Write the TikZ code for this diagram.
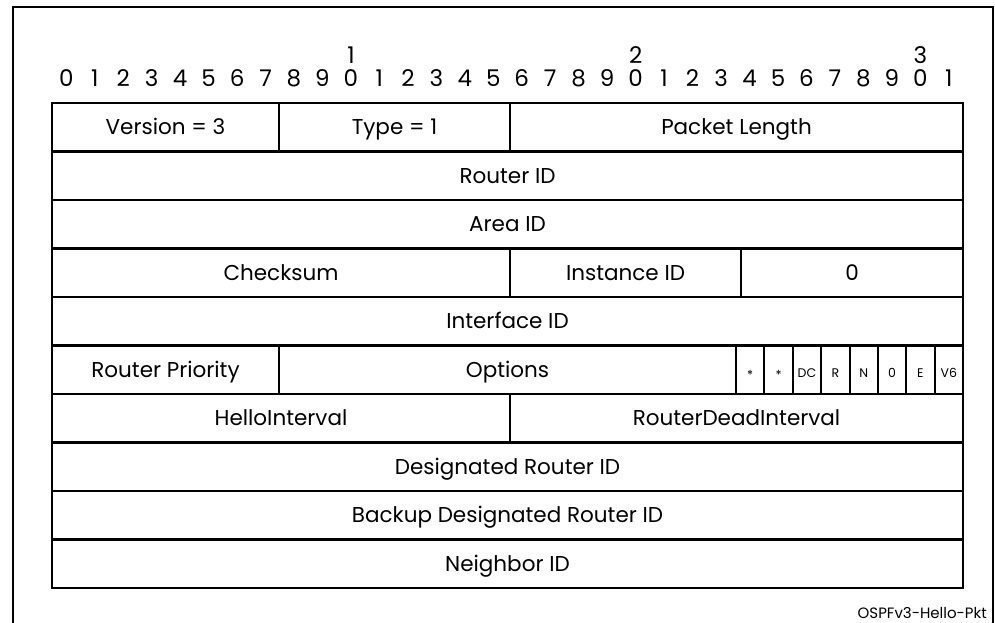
\documentclass[tikz,border=0pt]{standalone}
\usepackage{fontspec}
\setmainfont{Poppins}
\begin{document}
\begin{tikzpicture}[x=1pt,y=-1pt,
  field/.style={draw, line width=2.8pt, inner sep=0pt, outer sep=0pt, anchor=north west,
    minimum height=48.5pt, text height=15pt, text depth=0pt, font=\fontsize{21.5}{24}\selectfont},
  flagcell/.style={draw, line width=2pt, inner sep=0pt, outer sep=0pt, anchor=north west,
    minimum height=48.5pt, minimum width=28.375pt},
  flagtext/.style={inner sep=0pt, text height=8.5pt, text depth=0pt, font=\fontsize{12.5}{14}\selectfont},
  bit/.style={inner sep=0pt, text height=16pt, text depth=0pt, font=\fontsize{23}{26}\selectfont},
  frameline/.style={line width=2.5pt},
  ]
\useasboundingbox (0,0) rectangle (995,623);
\newcommand\fld[5]{\node[field, minimum width={#3pt-#2pt}] (#1) at (#2,{103+#4*48.5}) {#5};}
% outer frame (open at the bottom)
\coordinate (fbl) at (13,623);
\coordinate (ftl) at (13,7);
\coordinate (ftr) at (993,7);
\coordinate (fbr) at (993,623);
\draw[frameline] (fbl) -- (ftl) -- (ftr) -- (fbr);
% bit numbers
\foreach \i in {0,...,31} {
  \pgfmathtruncatemacro\u{mod(\i,10)}
  \node[bit] (u\i) at ({52+(\i+0.5)*28.47},79) {\u};
}
\node[bit] (t1) at ({52+10.5*28.47},56) {1};
\node[bit] (t2) at ({52+20.5*28.47},56) {2};
\node[bit] (t3) at ({52+30.5*28.47},56) {3};
% fields
\fld{ver}{52}{279}{0}{Version = 3}
\fld{type}{279}{510}{0}{Type = 1}
\fld{plen}{510}{963}{0}{Packet Length}
\fld{rid}{52}{963}{1}{Router ID}
\fld{aid}{52}{963}{2}{Area ID}
\fld{csum}{52}{510}{3}{Checksum}
\fld{iid}{510}{741}{3}{Instance ID}
\fld{zero}{741}{963}{3}{0}
\fld{ifid}{52}{963}{4}{Interface ID}
\fld{prio}{52}{279}{5}{Router Priority}
\fld{opts}{279}{736}{5}{Options}
\fld{hello}{52}{510}{6}{HelloInterval}
\fld{dead}{510}{963}{6}{RouterDeadInterval}
\fld{dr}{52}{963}{7}{Designated Router ID}
\fld{bdr}{52}{963}{8}{Backup Designated Router ID}
\fld{nbr}{52}{963}{9}{Neighbor ID}
% option flag cells
\foreach \lbl [count=\k from 0] in {\raisebox{-2pt}{*},\raisebox{-2pt}{*},DC,R,N,0,E,V6} {
  \node[flagcell] (fc\k) at ({736+\k*28.375},{103+5*48.5}) {};
  \node[flagtext] (ft\k) at ([yshift=-3pt]fc\k.center) {\lbl};
}
% caption
\node[inner sep=0pt, anchor=base east, font=\fontsize{15}{17}\selectfont] (cap) at (987,618) {OSPFv3-Hello-Pkt};
\end{tikzpicture}
\end{document}
